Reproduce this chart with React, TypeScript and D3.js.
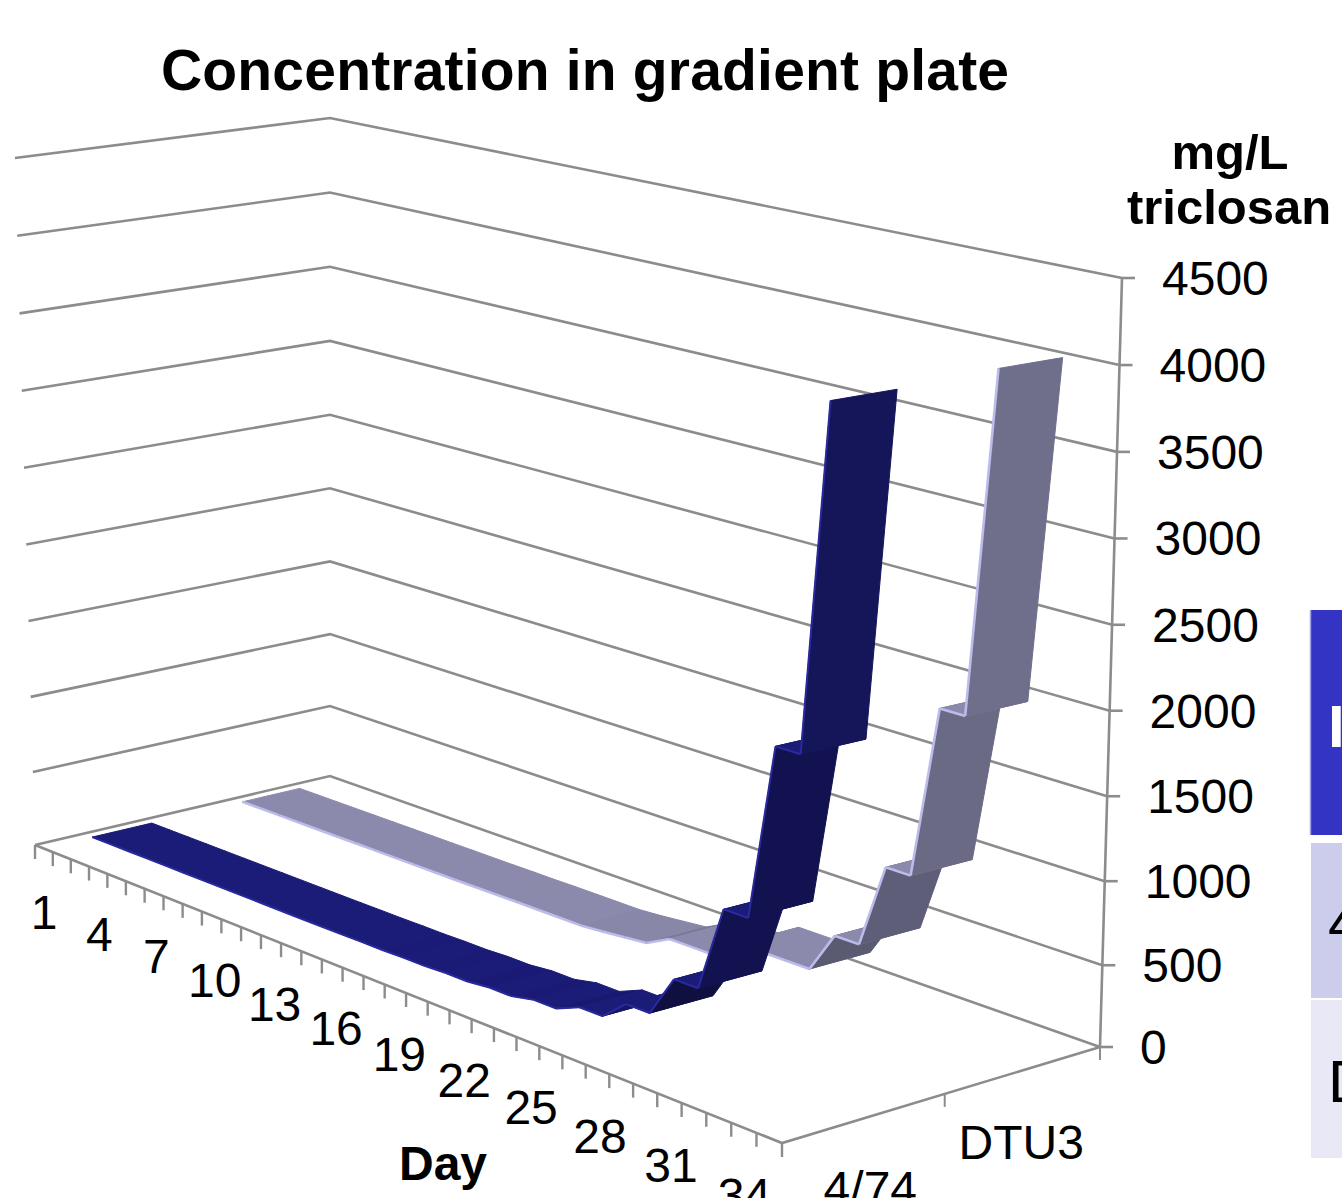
import React from "react";
import * as d3 from "d3";

const W = 1342, H = 1198;
const TITLE = "Concentration in gradient plate";
const days = d3.range(1, 36);
const dayLabels = [1, 4, 7, 10, 13, 16, 19, 22, 25, 28, 31, 34];
const seriesNames = ["4/74", "DTU3"];
const valueTicks = [0, 500, 1000, 1500, 2000, 2500, 3000, 3500, 4000, 4500];
const values474 = [1, 1, 1, 1, 1, 1, 1, 1, 1, 1, 1, 1, 2, 2, 4, 4, 8, 8, 16, 16, 32, 32, 64, 64, 128, 128, 256, 256, 512, 512, 1024, 1024, 2048, 2048, 4050];
const valuesDTU3 = [1, 1, 1, 1, 1, 1, 1, 1, 1, 1, 1, 1, 2, 2, 4, 4, 4, 4, 16, 32, 48, 128, 128, 128, 256, 256, 256, 256, 512, 512, 1024, 1024, 2048, 2048, 4070];
const legendNames = ["Isolate", "4/74", "DTU3"];
const legendFills = ["#3333c4", "#ccccec", "#e8e8f6"];

type P = [number, number];
const floorCorners: P[] = [[35, 845], [782, 1143], [1100, 1047], [330, 776]];
const topCorners: P[] = [[15, 158], [790, 330], [1122, 278], [330, 118]];

function quad(c: P[]) {
  const [[x0, y0], [x1, y1], [x2, y2], [x3, y3]] = c;
  const dx1 = x1 - x2, dx2 = x3 - x2, sx = x0 - x1 + x2 - x3;
  const dy1 = y1 - y2, dy2 = y3 - y2, sy = y0 - y1 + y2 - y3;
  const det = dx1 * dy2 - dx2 * dy1;
  const g = (sx * dy2 - dx2 * sy) / det;
  const h = (dx1 * sy - sx * dy1) / det;
  const a = x1 - x0 + g * x1, b = x3 - x0 + h * x3;
  const d = y1 - y0 + g * y1, e = y3 - y0 + h * y3;
  return (u: number, v: number): P => {
    const q = g * u + h * v + 1;
    return [(a * u + b * v + x0) / q, (d * u + e * v + y0) / q];
  };
}
const floorH = quad(floorCorners);
const topH = quad(topCorners);
const tScale = d3.scalePow().exponent(1.02).domain([0, 4500]).range([0, 1]);
const project = (u: number, v: number, w: number): P => {
  const f = floorH(u, v), t = topH(u, v), k = tScale(w);
  return [f[0] + (t[0] - f[0]) * k, f[1] + (t[1] - f[1]) * k];
};

const uBand = d3.scaleBand<number>().domain(days).range([0, 1]);
const vBand = d3.scaleBand<string>().domain(seriesNames).range([0.005, 1.015]).paddingInner(0.608).paddingOuter(0.304);
const uMid = (d: number) => (uBand(d) as number) + uBand.bandwidth() / 2;

const shade474 = d3.scaleLinear<string>().domain([-80, 0, 100, 256, 512, 1024, 2048]).range(["#22228a", "#1b1b78", "#17176a", "#0f0f40", "#121250", "#121250", "#15155a"]);
const shadeDTU3 = d3.scaleLinear<string>().domain([-30, 0, 100, 256, 512, 1024, 2048]).range(["#9090b0", "#8c8aac", "#75758f", "#5a5a70", "#5e5e78", "#6a6a84", "#6f6f8c"]);

const pathOf = d3.line<P>();
const GRID = "#8c8c8c";

function Ribbon({ name, vals, shade, edge, edgeWidth }: { name: string; vals: number[]; shade: (n: number) => string; edge: string; edgeWidth: number }) {
  const v0 = vBand(name) as number, v1 = v0 + vBand.bandwidth();
  return (
    <g>
      {days.slice(0, -1).map((d, i) => {
        const a = vals[i], b = vals[i + 1];
        const pts: P[] = [project(uMid(d), v0, a), project(uMid(d + 1), v0, b), project(uMid(d + 1), v1, b), project(uMid(d), v1, a)];
        const col = shade(b - a);
        return (
          <g key={d}>
            <path d={pathOf(pts) + "Z"} fill={col} stroke={col} strokeWidth={1} />
            <path d={pathOf([pts[0], pts[1]]) as string} fill="none" stroke={edge} strokeWidth={edgeWidth} />
          </g>
        );
      })}
    </g>
  );
}

export default function App() {
  const font = "'Liberation Sans', Arial, sans-serif";
  const legendBase = [747, 943, 1102];
  return (
    <svg width={W} height={H} viewBox={`0 0 ${W} ${H}`} style={{ position: "absolute", left: 0, top: 0, background: "#fff" }} fontFamily={font}>
      <text x={161} y={90} fontSize={57} fontWeight="bold" textLength={848} lengthAdjust="spacing" fill="#000">{TITLE}</text>
      <text x={1230} y={169} fontSize={49} fontWeight="bold" textAnchor="middle" fill="#000">mg/L</text>
      <text x={1229} y={224} fontSize={49} fontWeight="bold" textAnchor="middle" fill="#000">triclosan</text>

      {valueTicks.map((t) => {
        const a = project(0, 0, t), b = project(0, 1, t), c = project(1, 1, t);
        return (
          <g key={t}>
            <path d={pathOf([a, b, c]) as string} fill="none" stroke={GRID} strokeWidth={2.6} />
            <line x1={c[0]} x2={c[0] + 13} y1={c[1]} y2={c[1]} stroke={GRID} strokeWidth={2.6} />
            <text x={c[0] + 40} y={c[1] + 17} fontSize={48} fill="#000">{t}</text>
          </g>
        );
      })}
      <path d={pathOf([project(1, 1, 0), project(1, 1, 4500)]) as string} stroke={GRID} strokeWidth={2.6} fill="none" />
      <path d={pathOf([project(0, 0, 0), project(1, 0, 0), project(1, 1, 0)]) as string} stroke={GRID} strokeWidth={2.6} fill="none" />

      {d3.range(0, 36).map((i) => {
        const p = floorH(i / 35, 0);
        return <line key={i} x1={p[0]} x2={p[0]} y1={p[1]} y2={p[1] + 14} stroke={GRID} strokeWidth={2.4} />;
      })}
      {[0.5, 1].map((v) => {
        const p = floorH(1, v);
        return <line key={v} x1={p[0]} x2={p[0]} y1={p[1]} y2={p[1] + 13} stroke={GRID} strokeWidth={2} />;
      })}
      {dayLabels.map((d) => {
        const u = uMid(d);
        const p = floorH(u, 0);
        return <text key={d} x={p[0] + 4 * Math.sin(Math.PI * u)} y={p[1] + 80 + 4 * u} fontSize={48} textAnchor="middle" fill="#000">{d}</text>;
      })}
      <text x={443} y={1180} fontSize={48} fontWeight="bold" textAnchor="middle" fill="#000">Day</text>
      {seriesNames.map((s, i) => {
        const p = floorH(1, (i + 0.5) * 0.5);
        return <text key={s} x={p[0] + 6 - i * 8} y={p[1] + 87 + i * 2} fontSize={48} textAnchor="middle" fill="#000">{s}</text>;
      })}

      <Ribbon name="DTU3" vals={valuesDTU3} shade={shadeDTU3} edge="#bcbcec" edgeWidth={2.6} />
      <Ribbon name="4/74" vals={values474} shade={shade474} edge="#2a2aa0" edgeWidth={2} />

      {legendNames.map((s, i) => {
        const y0 = [610, 843, 1000][i], y1 = [835, 998, 1158][i];
        return (
          <g key={s}>
            <rect x={1311} y={y0} width={60} height={y1 - y0} fill={legendFills[i]} />
            {i === 0 && <line x1={1310.5} x2={1310.5} y1={y0} y2={y1} stroke="#a0a0e4" strokeWidth={1.5} />}
            <text x={1328} y={legendBase[i]} fontSize={60} fontWeight={i === 0 ? "bold" : "normal"} fill={i === 0 ? "#fff" : "#000"}>{s}</text>
          </g>
        );
      })}
    </svg>
  );
}
